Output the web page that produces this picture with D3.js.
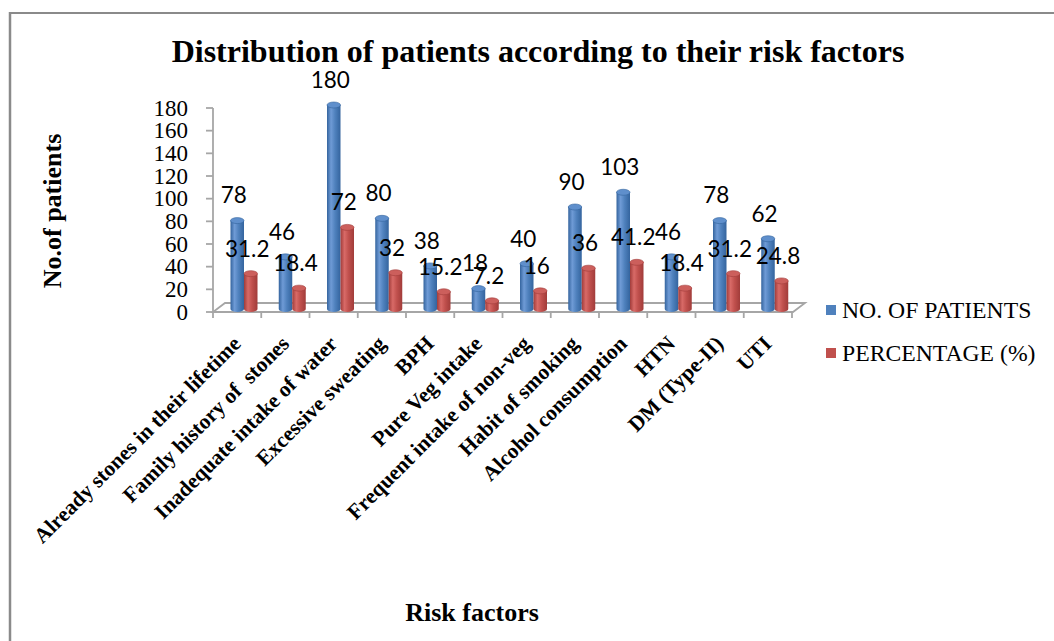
<!DOCTYPE html>
<html>
<head>
<meta charset="utf-8">
<script src="https://cdn.jsdelivr.net/npm/d3@7"></script>
<style>
  html, body { margin: 0; padding: 0; background: #fff; }
  svg { display: block; }
  text { white-space: pre; }
</style>
</head>
<body>
<svg id="chart" width="1054" height="641"></svg>
<script>
// Risk factor categories (x axis)
const categories = [
  "Already stones in their lifetime",
  "Family history of  stones",
  "Inadequate intake of water",
  "Excessive sweating",
  "BPH",
  "Pure Veg intake",
  "Frequent intake of non-veg",
  "Habit of smoking",
  "Alcohol consumption",
  "HTN",
  "DM (Type-II)",
  "UTI"
];

// Series values
const patients   = [78, 46, 180, 80, 38, 18, 40, 90, 103, 46, 78, 62];
const percentage = [31.2, 18.4, 72, 32, 15.2, 7.2, 16, 36, 41.2, 18.4, 31.2, 24.8];

const seriesNames = ["NO. OF PATIENTS", "PERCENTAGE (%)"];
const yTicks = [0, 20, 40, 60, 80, 100, 120, 140, 160, 180];

const svg = d3.select("#chart");

// Colours for each series: base, light (highlight), dark (edge), top cap
const palette = [
  { base: "#4f81bd", light: "#6f9bd6", dark: "#34649e", cap: "#5f8fcc" },
  { base: "#c0504d", light: "#d86a67", dark: "#a13c3a", cap: "#cc5f5c" }
];

// Gradients for the cylinders
const defs = svg.append("defs");
palette.forEach((p, i) => {
  const g = defs.append("linearGradient")
    .attr("id", "cyl" + i)
    .attr("x1", "0%").attr("x2", "100%").attr("y1", "0%").attr("y2", "0%");
  g.append("stop").attr("offset", "0%").attr("stop-color", p.dark);
  g.append("stop").attr("offset", "30%").attr("stop-color", p.light);
  g.append("stop").attr("offset", "60%").attr("stop-color", p.base);
  g.append("stop").attr("offset", "100%").attr("stop-color", p.dark);
});

// Outer frame (top and left edges)
svg.append("line").attr("x1", 10).attr("y1", 13).attr("x2", 1054).attr("y2", 13)
  .attr("stroke", "#8a8a8a").attr("stroke-width", 2);
svg.append("line").attr("x1", 10).attr("y1", 12).attr("x2", 10).attr("y2", 641)
  .attr("stroke", "#8a8a8a").attr("stroke-width", 2.5);

// Scales
const x0 = 213, x1 = 792;
const x = d3.scaleBand().domain(categories).range([x0, x1]).paddingInner(0).paddingOuter(0);
const xs = d3.scaleBand().domain(seriesNames).range([17.5, 44.5]).padding(0);
const y = d3.scaleLinear().domain([0, 180]).range([312, 108]);

// 3D depth offset of the floor
const depthX = 12, depthY = -9;
// Bars sit partway into the depth
const barDY = -3;

// Floor (parallelogram)
const floorColor = "#a6a6a6";
svg.append("path")
  .attr("d", `M${x0},${y(0)} L${x1 + 1},${y(0)} L${x1 + 1 + depthX},${y(0) + depthY} L${x0 + depthX},${y(0) + depthY} Z`)
  .attr("fill", "none").attr("stroke", floorColor).attr("stroke-width", 1.8);

// Y axis line and ticks
svg.append("line").attr("x1", x0).attr("x2", x0).attr("y1", y(180)).attr("y2", y(0))
  .attr("stroke", floorColor).attr("stroke-width", 1.8);
svg.selectAll(".ytick").data(yTicks).enter().append("line")
  .attr("x1", x0 - 7).attr("x2", x0).attr("y1", d => y(d)).attr("y2", d => y(d))
  .attr("stroke", floorColor).attr("stroke-width", 1.8);
svg.selectAll(".ylab").data(yTicks).enter().append("text")
  .attr("x", 188).attr("y", d => y(d)).attr("dy", "0.33em")
  .attr("text-anchor", "end")
  .attr("font-family", "'Liberation Serif', 'Times New Roman', serif")
  .attr("font-size", 23).attr("fill", "#000")
  .text(d => d);

// X axis ticks at category boundaries
const xTickPos = categories.map(c => x(c)).concat([x1]);
svg.selectAll(".xtick").data(xTickPos).enter().append("line")
  .attr("x1", d => d).attr("x2", d => d).attr("y1", y(0)).attr("y2", y(0) + 6)
  .attr("stroke", floorColor).attr("stroke-width", 1.8);

// Category labels, rotated
svg.selectAll(".xlab").data(categories).enter().append("text")
  .attr("transform", d => `translate(${x(d) + x.bandwidth() / 2 + 5},${345}) rotate(-45)`)
  .attr("text-anchor", "end")
  .attr("font-family", "'Liberation Serif', 'Times New Roman', serif")
  .attr("font-weight", "bold").attr("font-size", 21.5).attr("fill", "#000")
  .text(d => d);

// Cylinder bars
const series = [patients, percentage];
const ry = 3;
const bars = [];
categories.forEach((c, i) => {
  series.forEach((vals, s) => {
    const bx = x(c) + xs(seriesNames[s]);
    const bw = xs.bandwidth();
    const top = y(vals[i]) + barDY;
    const bottom = y(0) + barDY;
    bars.push({ c, s, v: vals[i], bx, bw, top, bottom });
  });
});

const barG = svg.append("g");
bars.forEach(b => {
  const p = palette[b.s];
  const rx = b.bw / 2;
  const cx = b.bx + rx;
  // body with rounded bottom
  barG.append("path")
    .attr("d", `M${b.bx},${b.top} L${b.bx},${b.bottom} A${rx},${ry} 0 0 0 ${b.bx + b.bw},${b.bottom} L${b.bx + b.bw},${b.top} Z`)
    .attr("fill", `url(#cyl${b.s})`);
  // top cap
  barG.append("ellipse")
    .attr("cx", cx).attr("cy", b.top).attr("rx", rx).attr("ry", ry)
    .attr("fill", p.cap).attr("stroke", p.dark).attr("stroke-width", 0.6);
});

// Value labels
svg.selectAll(".vlab").data(bars).enter().append("text")
  .attr("x", d => d.bx + d.bw / 2 - 3.5)
  .attr("y", d => d.top - 25)
  .attr("dy", "0.35em")
  .attr("text-anchor", "middle")
  .attr("font-family", "Lato, 'Open Sans', sans-serif")
  .attr("font-size", 22.5).attr("fill", "#000")
  .text(d => d.v);

// Title
svg.append("text")
  .attr("x", 538).attr("y", 62)
  .attr("text-anchor", "middle")
  .attr("font-family", "'Liberation Serif', 'Times New Roman', serif")
  .attr("font-weight", "bold").attr("font-size", 32)
  .text("Distribution of patients according to their risk factors");

// Axis titles
svg.append("text")
  .attr("transform", "translate(61,211) rotate(-90)")
  .attr("text-anchor", "middle")
  .attr("font-family", "'Liberation Serif', 'Times New Roman', serif")
  .attr("font-weight", "bold").attr("font-size", 26)
  .text("No.of patients");

svg.append("text")
  .attr("x", 472).attr("y", 621)
  .attr("text-anchor", "middle")
  .attr("font-family", "'Liberation Serif', 'Times New Roman', serif")
  .attr("font-weight", "bold").attr("font-size", 26)
  .text("Risk factors");

// Legend
const legend = svg.append("g");
seriesNames.forEach((name, i) => {
  const ly = 310 + i * 43;
  legend.append("rect")
    .attr("x", 826).attr("y", ly - 5).attr("width", 10).attr("height", 10)
    .attr("fill", palette[i].base);
  legend.append("text")
    .attr("x", 842).attr("y", ly + 7.5)
    .attr("font-family", "'Liberation Serif', 'Times New Roman', serif")
    .attr("font-size", 23.7).attr("fill", "#000")
    .text(name);
});
</script>
</body>
</html>
